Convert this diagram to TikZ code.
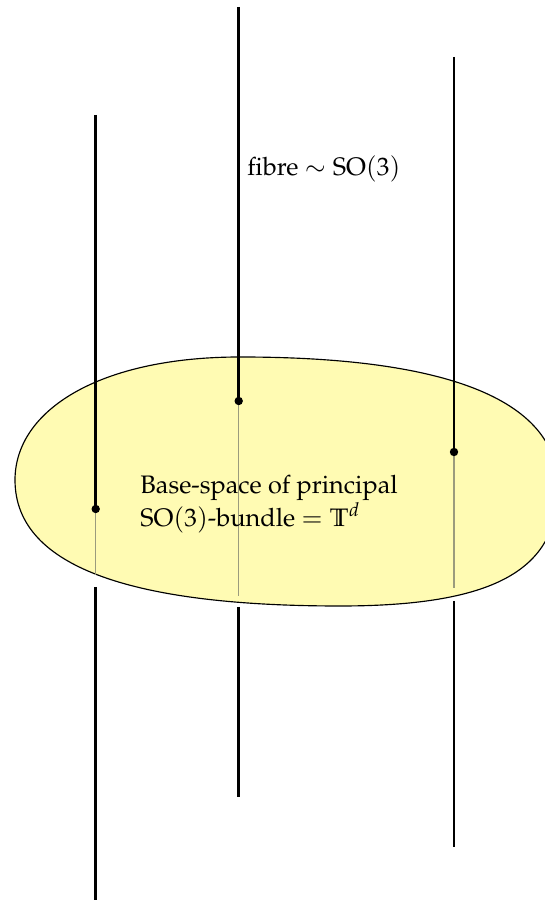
\documentclass[tikz,border=0pt]{standalone}
\usepackage[T1]{fontenc}
\usepackage{mathpazo}
\usepackage{amssymb}
\definecolor{fibregrey}{RGB}{155,155,125}
\begin{document}
\begin{tikzpicture}[x=0.1528cm,y=0.1528cm]
    \tikzstyle{every node}+=[inner sep=0pt, font=\fontsize{11}{12}\selectfont]
    \tikzstyle{fibre}=[black, line width=1.1pt]
    \tikzstyle{hidden}=[fibregrey, line width=0.55pt]
    \useasboundingbox (0,0) rectangle (54.4,90.2);
    \draw [black, fill=yellow!30, line width=0.5pt] (24,54.5) .. controls (44,54.5) and (55.8,50.5) .. (55.8,41.5)
        .. controls (55.8,33.5) and (50,29.6) .. (34,29.6)
        .. controls (14,29.6) and (1.5,33.2) .. (1.5,42.2)
        .. controls (1.5,49.2) and (10,54.5) .. cycle;
    \coordinate (a top) at (9.57,78.7);
    \coordinate (a dot) at (9.57,39.3);
    \coordinate (a end) at (9.57,32.7);
    \coordinate (a low) at (9.57,31.5);
    \coordinate (a bot) at (9.57,0.2);
    \coordinate (b top) at (23.87,89.5);
    \coordinate (b dot) at (23.87,50.1);
    \coordinate (b end) at (23.87,30.6);
    \coordinate (b low) at (23.87,29.5);
    \coordinate (b bot) at (23.87,10.5);
    \coordinate (c top) at (45.4,84.5);
    \coordinate (c dot) at (45.4,45.0);
    \coordinate (c end) at (45.4,31.4);
    \coordinate (c low) at (45.4,30.1);
    \coordinate (c bot) at (45.4,5.5);
    \draw [hidden] (a dot) -- (a end);
    \draw [hidden] (b dot) -- (b end);
    \draw [hidden] (c dot) -- (c end);
    \draw [fibre] (a top) -- (a dot);
    \draw [fibre] (b top) -- (b dot);
    \draw [fibre] (c top) -- (c dot);
    \draw [fibre] (a low) -- (a bot);
    \draw [fibre] (b low) -- (b bot);
    \draw [fibre] (c low) -- (c bot);
    \fill [black] (a dot) circle (0.42);
    \fill [black] (b dot) circle (0.42);
    \fill [black] (c dot) circle (0.42);
    \node [anchor=base west] (fibre label) at (24.7,72.6) {fibre $\sim \mathrm{SO}(3)$};
    \node [anchor=west, align=left] (base label) at (14.0,39.8) {Base-space of principal\\$\mathrm{SO}(3)$-bundle $=\mathbb{T}^d$};
\end{tikzpicture}
\end{document}
